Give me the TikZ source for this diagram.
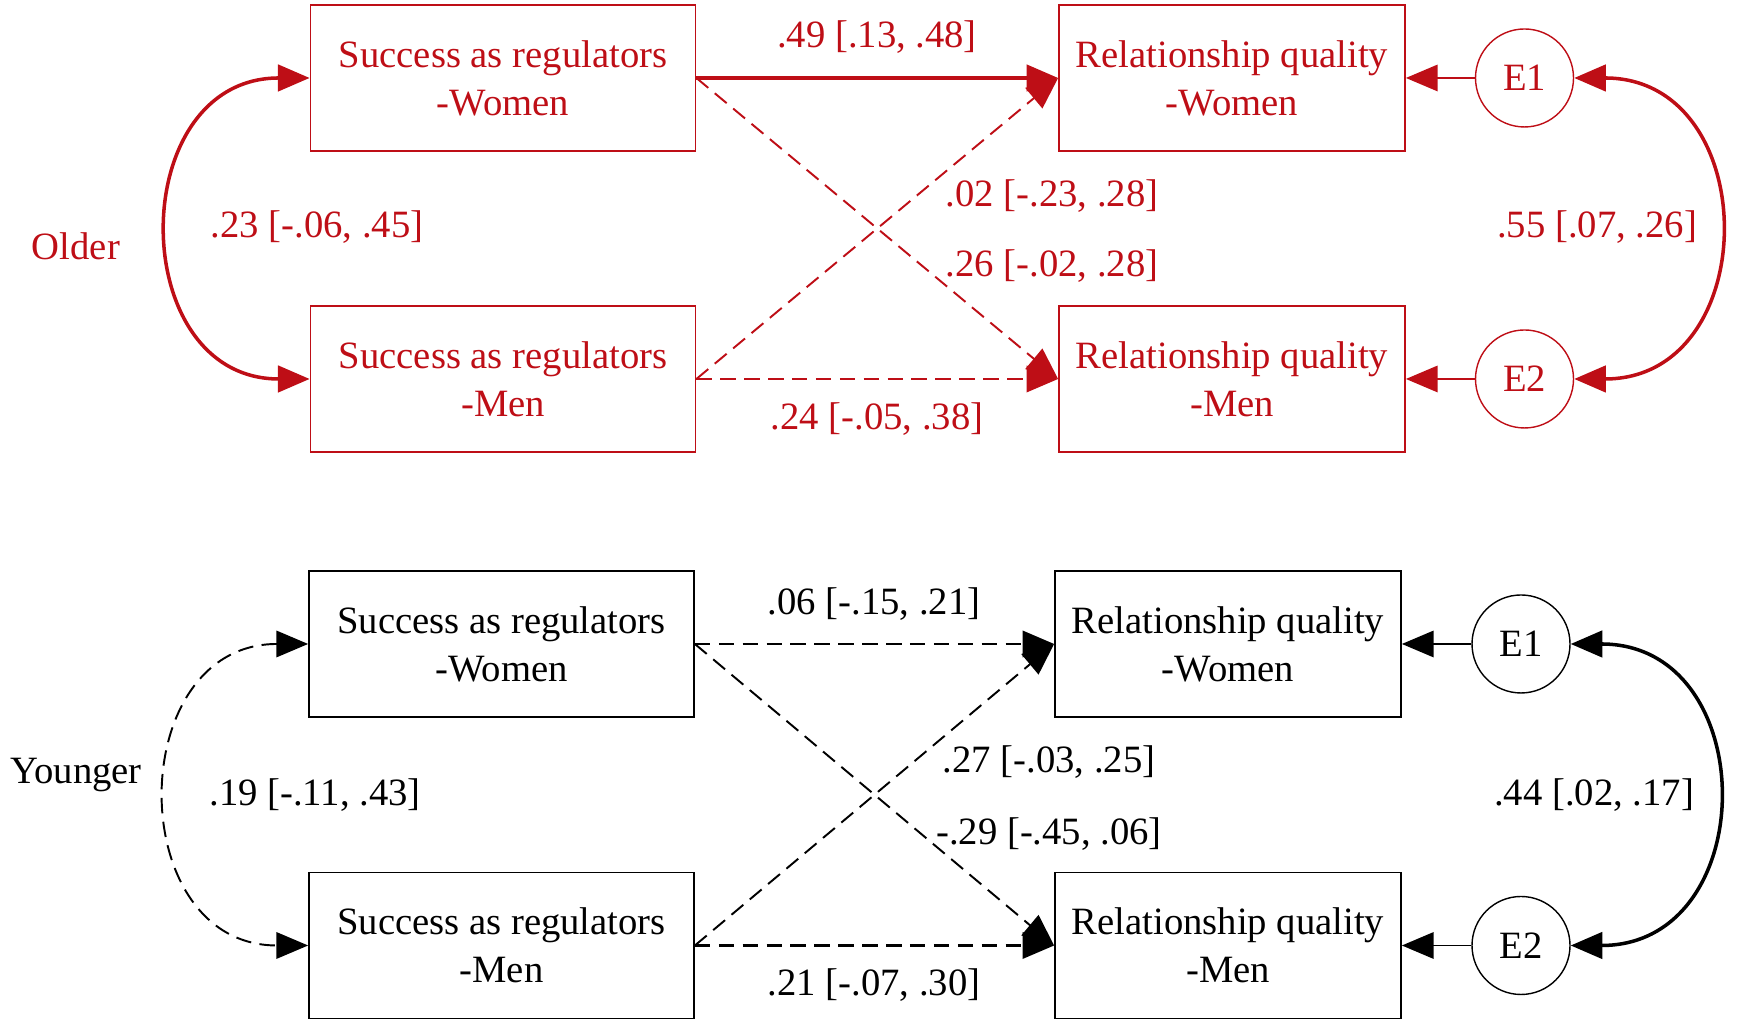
\documentclass[tikz,border=0pt]{standalone}
\usepackage{fontspec}
\setmainfont{Liberation Serif}
\usetikzlibrary{arrows.meta}
\definecolor{olderred}{RGB}{190,14,22}

\begin{document}
\begin{tikzpicture}[
    font=\fontsize{11}{13.7}\selectfont,
    regbox/.style={draw, line width=0.5pt, align=center, minimum width=3.85cm, minimum height=1.46cm},
    qualbox/.style={draw, line width=0.5pt, align=center, minimum width=3.46cm, minimum height=1.46cm},
    errcirc/.style={draw, circle, line width=0.4pt, minimum size=0.98cm, inner sep=0pt},
    coef/.style={inner sep=1pt},
    tip/.style={-{Triangle[length=9pt, width=7.5pt]}},
    effect/.style={tip, line width=1pt},
    effectdash/.style={tip, line width=0.55pt, dash pattern=on 4.4pt off 2.4pt},
    flatdash/.style={effectdash, line width=0.75pt},
    errarrow/.style={tip, line width=0.5pt},
    cov/.style={{Triangle[length=9pt, width=7.5pt]}-{Triangle[length=9pt, width=7.5pt]}, line width=1pt},
    covdash/.style={cov, line width=0.55pt, dash pattern=on 4.4pt off 2.4pt}
]
    \useasboundingbox (0,0) rectangle (17.55,10.23);

    % older couples
    \begin{scope}[color=olderred]
    \node[regbox] (sw1) at (5.03, 9.45) {Success as regulators\\-Women};
    \node[regbox] (sm1) at (5.03, 6.44) {Success as regulators\\-Men};
    \node[qualbox] (rw1) at (12.32, 9.45) {Relationship quality\\-Women};
    \node[qualbox] (rm1) at (12.32, 6.44) {Relationship quality\\-Men};
    \node[errcirc] (e11) at (15.245, 9.45) {E1};
    \node[errcirc] (e21) at (15.245, 6.44) {E2};

    \node[coef] (grp1) at (0.76, 7.77) {Older};
    \node[coef] at (3.17, 7.96) {.23 [-.06, .45]};
    \node[coef] at (15.97, 7.96) {.55 [.07, .26]};
    \node[coef] at (8.77, 9.86) {.49 [.13, .48]};
    \node[coef] at (10.52, 8.27) {.02 [-.23, .28]};
    \node[coef] at (10.52, 7.57) {.26 [-.02, .28]};
    \node[coef] at (8.77, 6.04) {.24 [-.05, .38]};

    \draw[effect] (sw1.east) -- (rw1.west);
    \draw[effectdash] (sw1.east) -- (rm1.west);
    \draw[effectdash] (sm1.east) -- (rw1.west);
    \draw[flatdash] (sm1.east) -- (rm1.west);
    \draw[errarrow] (e11) -- (rw1.east);
    \draw[errarrow] (e21) -- (rm1.east);
    \draw[cov] (sw1.west) .. controls +(-1.85,0) and +(-1.85,0) .. (sm1.west);
    \draw[cov] (e11.east) .. controls +(1.9,0) and +(1.9,0) .. (e21.east);
    \end{scope}

    % younger couples
    \node[regbox] (sw2) at (5.015, 3.79) {Success as regulators\\-Women};
    \node[regbox] (sm2) at (5.015, 0.775) {Success as regulators\\-Men};
    \node[qualbox] (rw2) at (12.28, 3.79) {Relationship quality\\-Women};
    \node[qualbox] (rm2) at (12.28, 0.775) {Relationship quality\\-Men};
    \node[errcirc] (e12) at (15.21, 3.79) {E1};
    \node[errcirc] (e22) at (15.21, 0.775) {E2};

    \node[coef] (grp2) at (0.76, 2.48) {Younger};
    \node[coef] at (3.15, 2.28) {.19 [-.11, .43]};
    \node[coef] at (15.94, 2.28) {.44 [.02, .17]};
    \node[coef] at (8.74, 4.19) {.06 [-.15, .21]};
    \node[coef] at (10.49, 2.61) {.27 [-.03, .25]};
    \node[coef] at (10.49, 1.89) {-.29 [-.45, .06]};
    \node[coef] at (8.74, 0.38) {.21 [-.07, .30]};

    \draw[flatdash] (sw2.east) -- (rw2.west);
    \draw[effectdash] (sw2.east) -- (rm2.west);
    \draw[effectdash] (sm2.east) -- (rw2.west);
    \draw[flatdash] (sm2.east) -- (rm2.west);
    \draw[errarrow] (e12) -- (rw2.east);
    \draw[errarrow] (e22) -- (rm2.east);
    \draw[covdash] (sw2.west) .. controls +(-1.85,0) and +(-1.85,0) .. (sm2.west);
    \draw[cov] (e12.east) .. controls +(1.92,0) and +(1.92,0) .. (e22.east);
\end{tikzpicture}
\end{document}
